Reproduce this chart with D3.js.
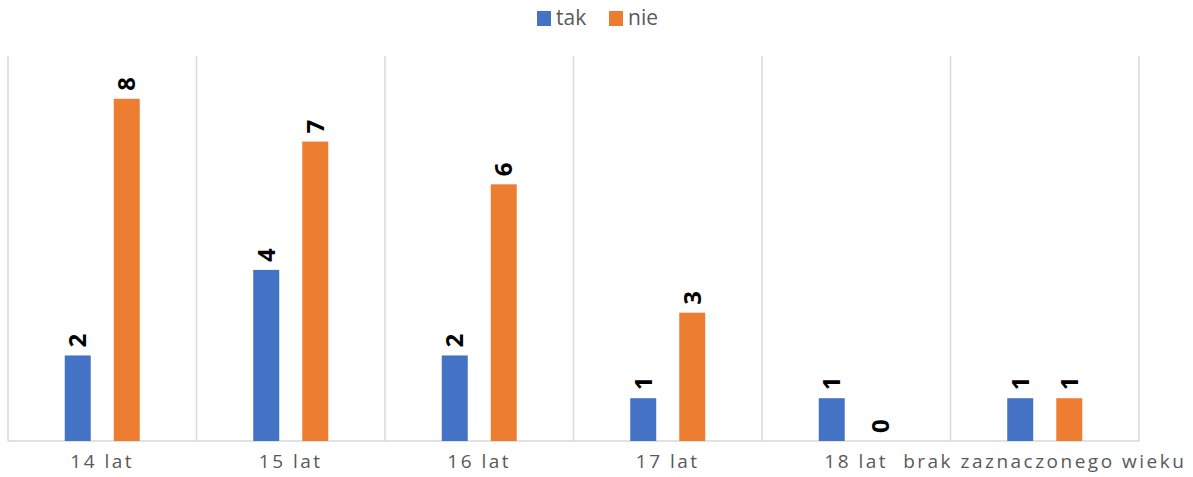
<!DOCTYPE html>
<html>
<head>
<meta charset="utf-8">
<script src="https://cdn.jsdelivr.net/npm/d3@7"></script>
<style>
  body { margin: 0; background: #fff; }
  text { font-family: "Open Sans", "Noto Sans", sans-serif; }
</style>
</head>
<body>
<div class="chart"></div>
<script>
var categories = ["14 lat", "15 lat", "16 lat", "17 lat", "18 lat", "brak zaznaczonego wieku"];
var series = ["tak", "nie"];
var takValues = [2, 4, 2, 1, 1, 1];
var nieValues = [8, 7, 6, 3, 0, 1];
var colors = ["#4472C4", "#ED7D31"];

var W = 1193, H = 477;
var margin = { top: 56, right: 54, bottom: 36, left: 8 };
var width = W - margin.left - margin.right,
    height = H - margin.top - margin.bottom;

var svg = d3.select(".chart").append("svg")
    .attr("width", W)
    .attr("height", H);

var g = svg.append("g")
    .attr("transform", "translate(" + margin.left + "," + margin.top + ")");

var x0 = d3.scaleBand().domain(categories).range([0, width]);
var x1 = d3.scaleBand().domain(series).range([0, 75]).paddingInner(0.47);
var y = d3.scaleLinear().domain([0, 9]).range([height, 0]);
var color = d3.scaleOrdinal().domain(series).range(colors);

// vertical category gridlines
var bounds = categories.map(function(c) { return x0(c); }).concat([width]);
g.selectAll(".grid").data(bounds).enter().append("line")
    .attr("x1", function(d) { return d; })
    .attr("x2", function(d) { return d; })
    .attr("y1", 0)
    .attr("y2", height)
    .attr("stroke", "#d9d9d9")
    .attr("stroke-width", 1.5);

g.append("line")
    .attr("x1", 0).attr("x2", width)
    .attr("y1", height).attr("y2", height)
    .attr("stroke", "#d9d9d9")
    .attr("stroke-width", 1.5);

var data = [];
categories.forEach(function(c, i) {
  data.push({ cat: c, s: "tak", v: takValues[i] });
  data.push({ cat: c, s: "nie", v: nieValues[i] });
});

function bx(d) { return x0(d.cat) + x0.bandwidth() / 2 - 37.5 + x1(d.s); }

g.selectAll(".bar").data(data).enter().append("rect")
    .attr("class", "bar")
    .attr("x", bx)
    .attr("y", function(d) { return y(d.v); })
    .attr("width", x1.bandwidth())
    .attr("height", function(d) { return height - y(d.v); })
    .attr("fill", function(d) { return color(d.s); })
    .attr("stroke", function(d) { return d.v === 0 ? color(d.s) : "none"; })
    .attr("stroke-width", 1);

g.selectAll(".val").data(data).enter().append("text")
    .attr("class", "val")
    .attr("transform", function(d) {
      return "translate(" + (bx(d) + x1.bandwidth() / 2) + "," + (y(d.v) - 8) + ") rotate(-90)";
    })
    .attr("dy", "0.35em")
    .style("font-size", "24px")
    .style("font-weight", "bold")
    .attr("fill", "#000")
    .text(function(d) { return d.v; });

g.selectAll(".cat").data(categories).enter().append("text")
    .attr("class", "cat")
    .attr("x", function(d) { return x0(d) + x0.bandwidth() / 2; })
    .attr("y", height + 27)
    .attr("text-anchor", "middle")
    .style("font-size", "19px")
    .style("letter-spacing", "2.5px")
    .attr("fill", "#595959")
    .text(function(d) { return d; });

// legend
var legend = svg.append("g").attr("transform", "translate(537,0)");
var li = legend.selectAll(".li").data(series).enter().append("g")
    .attr("transform", function(d, i) { return "translate(" + (i * 72) + ",0)"; });
li.append("rect")
    .attr("y", 11).attr("width", 14).attr("height", 15)
    .attr("fill", function(d) { return color(d); });
li.append("text")
    .attr("x", 19).attr("y", 25)
    .style("font-size", "21px")
    .attr("fill", "#595959")
    .text(function(d) { return d; });
</script>
</body>
</html>
